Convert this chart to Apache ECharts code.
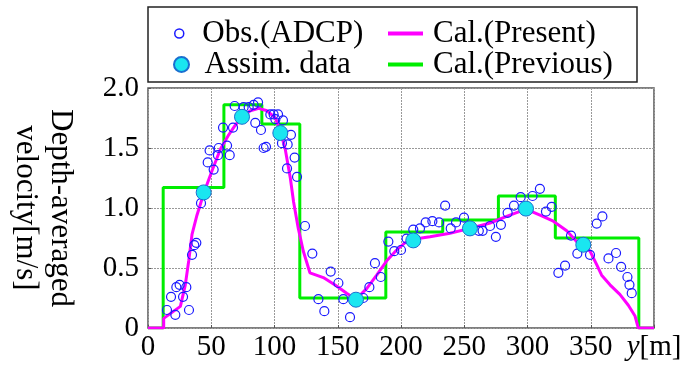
<!DOCTYPE html>
<html>
<head>
<meta charset="utf-8">
<script src="https://cdn.jsdelivr.net/npm/echarts@6/dist/echarts.min.js"></script>
<style>
  html, body { margin: 0; padding: 0; background: #fff; }
  #chart { width: 690px; height: 367px; }
</style>
</head>
<body>
<div id="chart"></div>
<script>
const SERIF = "'Liberation Serif', 'DejaVu Serif', serif"

// tick labels
const xTicks = [0, 50, 100, 150, 200, 250, 300, 350, 400]
const yTicks = [0, 0.5, 1.0, 1.5, 2.0]

// Obs.(ADCP): [y (m), velocity (m/s)]
const obsPoints = [
  [15.0, 0.15], [18.2, 0.26], [21.6, 0.11], [22.4, 0.34], [25.0, 0.36], [27.7, 0.26],
  [30.3, 0.34], [32.4, 0.15], [34.8, 0.61], [36.6, 0.69], [38.2, 0.71], [41.9, 1.04],
  [47.2, 1.38], [48.7, 1.48], [51.9, 1.32], [55.3, 1.44], [55.9, 1.50], [59.3, 1.67],
  [62.5, 1.52], [64.6, 1.44], [67.2, 1.67], [68.5, 1.85], [75.6, 1.84], [79.6, 1.84],
  [83.5, 1.86], [84.8, 1.71], [87.0, 1.88], [89.3, 1.65], [91.4, 1.50], [93.3, 1.51],
  [96.7, 1.78], [99.3, 1.78], [100.7, 1.74], [102.8, 1.78], [105.9, 1.54], [106.7, 1.73],
  [109.9, 1.33], [110.4, 1.53], [113.0, 1.61], [115.9, 1.42], [117.8, 1.26],
  [124.1, 0.85], [129.9, 0.62], [134.7, 0.24], [139.4, 0.14], [144.4, 0.47], [150.5, 0.375],
  [154.4, 0.24], [159.7, 0.09], [170.2, 0.25], [175.0, 0.34], [179.4, 0.54], [184.0, 0.425],
  [190.0, 0.72], [194.7, 0.64], [200.0, 0.65], [204.4, 0.745], [209.7, 0.82], [215.0, 0.83],
  [219.5, 0.88], [224.8, 0.89], [230.1, 0.88], [234.9, 1.02],
  [239.3, 0.83], [243.5, 0.88], [249.8, 0.92], [261.5, 0.81], [264.5, 0.81], [270.4, 0.85],
  [275.0, 0.76], [279.0, 0.86], [284.3, 0.96], [289.3, 1.02], [294.6, 1.09], [304.0, 1.10],
  [309.8, 1.16], [314.6, 0.97], [319.1, 1.01],
  [324.4, 0.46], [329.7, 0.52], [334.4, 0.77], [339.4, 0.62], [349.4, 0.61], [354.7, 0.87],
  [359.2, 0.93], [364.0, 0.58], [370.0, 0.625], [374.0, 0.51], [379.0, 0.425], [380.6, 0.36],
  [382.4, 0.29]
]

// Assim. data
const assimPoints = [
  [44.0, 1.13], [74.3, 1.76], [104.6, 1.625], [164.4, 0.236],
  [209.7, 0.73], [254.5, 0.83], [298.8, 0.995], [344.1, 0.694]
]

// Cal.(Present)
const presentLine = [
  [0, 0], [12.4, 0], [12.4, 0.08], [25.6, 0.18], [29.5, 0.36], [32.2, 0.56], [34.8, 0.78],
  [38.7, 0.94], [44.0, 1.12], [50.6, 1.31], [57.2, 1.49], [63.8, 1.61], [69.0, 1.69],
  [74.3, 1.76], [80.9, 1.81], [87.5, 1.83], [94.1, 1.81], [100.7, 1.75], [104.6, 1.64],
  [108.5, 1.49], [112.5, 1.25], [115.1, 1.05], [118.8, 0.83], [122.8, 0.64], [128.0, 0.46],
  [138.6, 0.42], [149.1, 0.35], [157.0, 0.29], [164.4, 0.24], [173.0, 0.33], [180.8, 0.44],
  [188.7, 0.56], [196.6, 0.65], [203.0, 0.71], [209.7, 0.74], [222.9, 0.76], [238.7, 0.79],
  [254.5, 0.83], [270.4, 0.875], [283.5, 0.93], [298.8, 0.99], [309.9, 0.94], [320.4, 0.89],
  [331.0, 0.81], [338.8, 0.72], [344.1, 0.69], [349.4, 0.64], [354.6, 0.53], [358.6, 0.44],
  [365.2, 0.36], [373.0, 0.28], [379.7, 0.19], [385.0, 0.10], [387.6, 0], [400, 0]
]

// Cal.(Previous): step edges and the value held until the next edge
const previousEdges = [0, 12, 60, 90, 120, 188, 233, 277, 322, 388, 400]
const previousValues = [0, 1.17, 1.86, 1.70, 0.25, 0.80, 0.90, 1.10, 0.75, 0, 0]

const previousLine = previousEdges.map((x, i) => [x, previousValues[i]])

const chart = echarts.init(document.getElementById('chart'))

const legendText = { fontFamily: SERIF, fontSize: 31, color: '#000', lineHeight: 31 }

const option = {
  animation: false,
  backgroundColor: '#fff',
  grid: {
    left: 148, right: 36, top: 88, bottom: 39,
    show: true, borderColor: '#555', borderWidth: 1.5
  },
  xAxis: {
    type: 'value',
    min: xTicks[0],
    max: xTicks[xTicks.length - 1],
    interval: 50,
    axisLine: { show: false },
    axisTick: { show: true, inside: true, length: 3, lineStyle: { color: '#555' } },
    splitLine: { show: true, lineStyle: { color: '#999', type: [2, 1], width: 1 } },
    axisLabel: {
      margin: 5,
      fontFamily: SERIF,
      fontSize: 29,
      color: '#000',
      showMaxLabel: true,
      formatter: v => v === 400 ? '{i|y}[m]' : String(v),
      rich: { i: { fontFamily: SERIF, fontSize: 29, fontStyle: 'italic', color: '#000' } }
    }
  },
  yAxis: {
    type: 'value',
    min: yTicks[0],
    max: yTicks[yTicks.length - 1],
    interval: 0.5,
    axisLine: { show: false },
    axisTick: { show: true, inside: true, length: 3, lineStyle: { color: '#555' } },
    splitLine: { show: true, lineStyle: { color: '#999', type: [2, 1], width: 1 } },
    axisLabel: {
      margin: 9,
      fontFamily: SERIF,
      fontSize: 29,
      color: '#000',
      formatter: v => v === 0 ? '0' : v.toFixed(1)
    }
  },
  legend: [
    {
      left: 169, top: 13, itemWidth: 36, itemHeight: 9, itemGap: 0,
      textStyle: legendText, data: [{
        name: 'Obs.(ADCP)', icon: 'circle',
        itemStyle: { color: 'rgba(0,0,0,0)', borderColor: '#1a1aff', borderWidth: 1.5 }
      }]
    },
    {
      left: 168, top: 44, itemWidth: 36, itemHeight: 15, itemGap: 0,
      textStyle: legendText, data: [{ name: 'Assim. data', icon: 'circle' }]
    },
    {
      left: 383, top: 13, orient: 'vertical', itemWidth: 35, itemHeight: 4, itemGap: 0,
      textStyle: Object.assign({ padding: [0, 0, 0, 5] }, legendText),
      data: [
        { name: 'Cal.(Present)', icon: 'rect', itemStyle: { color: '#ff00ff' } },
        { name: 'Cal.(Previous)', icon: 'rect', itemStyle: { color: '#00ee00' } }
      ]
    }
  ],
  graphic: [
    {
      type: 'rect',
      shape: { x: 148, y: 7, width: 489, height: 75 },
      style: { fill: 'none', stroke: '#222', lineWidth: 1.5 }
    },
    {
      type: 'text',
      x: 43, y: 208,
      rotation: -Math.PI / 2,
      style: {
        text: 'Depth-averaged\nvelocity[m/s]',
        fontFamily: SERIF, fontSize: 31, lineHeight: 35,
        fill: '#000', align: 'center', verticalAlign: 'middle'
      }
    }
  ],
  series: [
    {
      name: 'Cal.(Previous)',
      type: 'line',
      step: 'end',
      data: previousLine,
      symbol: 'none',
      lineStyle: { color: '#00ee00', width: 3 },
      itemStyle: { color: '#00ee00' },
      z: 2
    },
    {
      name: 'Cal.(Present)',
      type: 'line',
      data: presentLine,
      symbol: 'none',
      lineStyle: { color: '#ff00ff', width: 3 },
      itemStyle: { color: '#ff00ff' },
      z: 3
    },
    {
      name: 'Obs.(ADCP)',
      type: 'scatter',
      data: obsPoints,
      symbol: 'circle',
      symbolSize: 9,
      itemStyle: { color: 'rgba(0,0,0,0)', borderColor: '#1a1aff', borderWidth: 1.2, opacity: 1 },
      z: 4
    },
    {
      name: 'Assim. data',
      type: 'scatter',
      data: assimPoints,
      symbol: 'circle',
      symbolSize: 15,
      itemStyle: { color: '#1ae6f0', borderColor: '#1a6fd0', borderWidth: 1, opacity: 1 },
      z: 5
    }
  ]
}

chart.setOption(option)
</script>
</body>
</html>
